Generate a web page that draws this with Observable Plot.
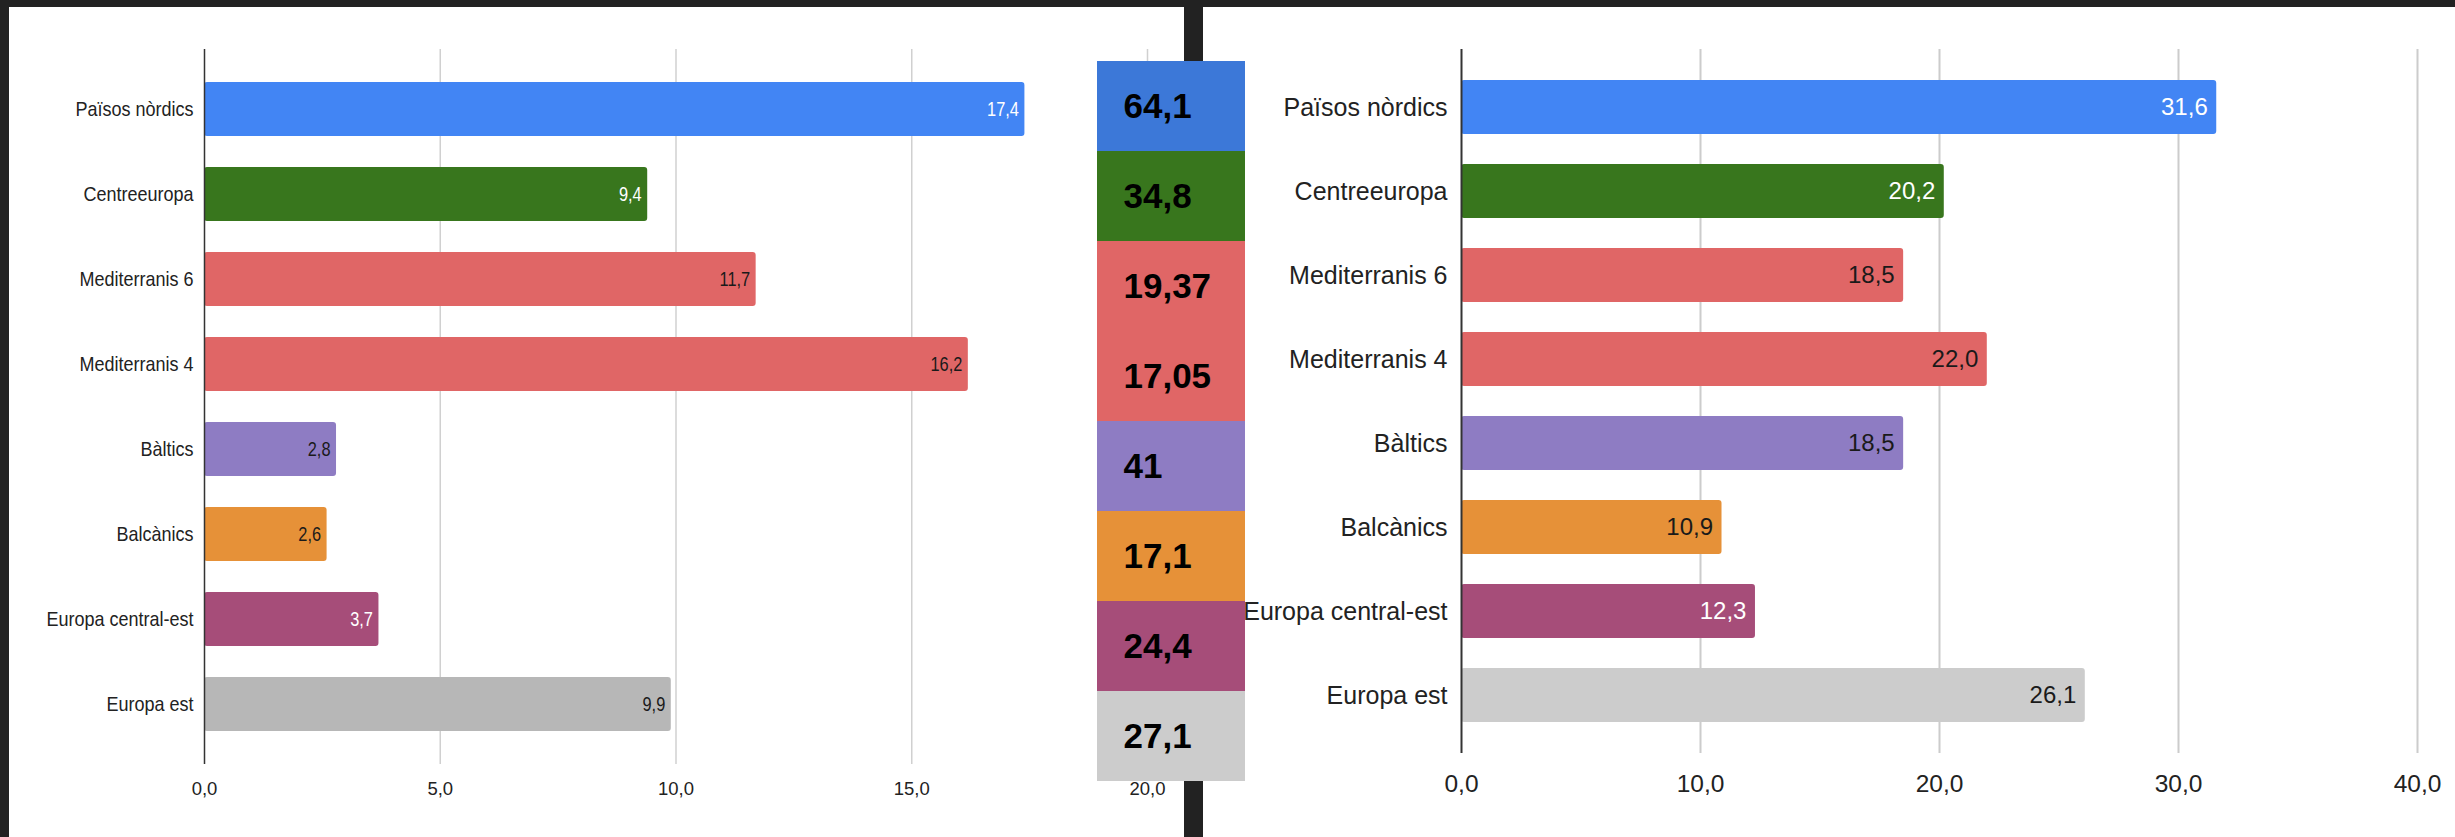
<!DOCTYPE html>
<html>
<head>
<meta charset="utf-8">
<script src="https://cdn.jsdelivr.net/npm/d3@7"></script>
<script src="https://cdn.jsdelivr.net/npm/@observablehq/plot@0.6"></script>
<style>
  html, body { margin: 0; padding: 0; }
  body { background: #222222; width: 2455px; height: 837px; position: relative; overflow: hidden; }
  .panel { position: absolute; background: #ffffff; }
  #lp { left: 9px; top: 7px; width: 1175px; height: 830px; }
  #rp { left: 1203px; top: 7px; width: 1252px; height: 830px; }
  #cb { position: absolute; left: 1097px; top: 59px; width: 148px; height: 724px; }
</style>
</head>
<body>
<div id="lp" class="panel"></div>
<div id="rp" class="panel"></div>
<div id="cb"></div>
<script>
// ---- data ----
const categories = ["Països nòrdics", "Centreeuropa", "Mediterranis 6", "Mediterranis 4", "Bàltics", "Balcànics", "Europa central-est", "Europa est"];
const leftValues = [17.4, 9.4, 11.7, 16.2, 2.8, 2.6, 3.7, 9.9];
const rightValues = [31.6, 20.2, 18.5, 22.0, 18.5, 10.9, 12.3, 26.1];
const boxValues = [64.1, 34.8, 19.37, 17.05, 41, 17.1, 24.4, 27.1];
const leftTicks = [0, 5, 10, 15, 20];
const rightTicks = [0, 10, 20, 30, 40];

// ---- styles ----
const leftBarColors = ["#4285f4", "#38761d", "#e06666", "#e06666", "#8e7cc3", "#e69138", "#a64d79", "#b7b7b7"];
const rightBarColors = ["#4285f4", "#38761d", "#e06666", "#e06666", "#8e7cc3", "#e69138", "#a64d79", "#cccccc"];
const boxColors = ["#3c78d8", "#38761d", "#e06666", "#e06666", "#8e7cc3", "#e69138", "#a64d79", "#cccccc"];
const labelColors = ["#ffffff", "#ffffff", "#1a1a1a", "#1a1a1a", "#1a1a1a", "#1a1a1a", "#ffffff", "#1a1a1a"];
const FONT = "'Liberation Sans', Arial, sans-serif";

const rows = categories.map((c, i) => ({cat: c, left: leftValues[i], right: rightValues[i], box: boxValues[i], i}));
const fmt1 = (v) => v.toFixed(1).replace(".", ",");
const fmtBox = (v) => String(v).replace(".", ",");

function condense(svg, selector, s) {
  svg.querySelectorAll(selector).forEach((t) => {
    const tr = t.getAttribute("transform");
    if (tr) t.setAttribute("transform", tr + ` scale(${s},1)`);
    else {
      const x = +t.getAttribute("x") || 0, y = +t.getAttribute("y") || 0;
      t.removeAttribute("x"); t.removeAttribute("y");
      t.setAttribute("transform", `translate(${x},${y}) scale(${s},1)`);
    }
  });
}

// ---- left chart ----
const left = Plot.plot({
  width: 1175, height: 830,
  marginLeft: 195, marginRight: 37, marginTop: 42, marginBottom: 73,
  style: {background: "transparent", fontFamily: FONT},
  x: {domain: [0, 20], axis: null, label: null},
  y: {domain: categories, padding: 0.36, axis: null, label: null},
  color: {type: "identity"},
  marks: [
    Plot.ruleX(leftTicks.slice(1), {stroke: "#d0d0d0", strokeWidth: 1.5}),
    Plot.barX(rows, {y: "cat", x: "left", fill: (d) => leftBarColors[d.i], rx: 3}),
    Plot.ruleX([0], {stroke: "#333333", strokeWidth: 1.5}),
    Plot.text(rows, {y: "cat", x: "left", text: (d) => fmt1(d.left), fill: (d) => labelColors[d.i], textAnchor: "end", dx: -6, fontSize: 20}),
    Plot.axisX(leftTicks, {tickSize: 0, tickPadding: 17, tickFormat: fmt1, fontSize: 18.5, fill: "#222", label: null}),
    Plot.axisY({tickSize: 0, tickPadding: 11, fontSize: 20, fill: "#222", label: null})
  ]
});
condense(left, 'g[aria-label="y-axis tick label"] text', 0.9);
condense(left, 'g[aria-label="text"] text', 0.82);
document.getElementById("lp").appendChild(left);

// ---- right chart ----
const right = Plot.plot({
  width: 1252, height: 830,
  marginLeft: 258, marginRight: 38, marginTop: 42, marginBottom: 84,
  style: {background: "transparent", fontFamily: FONT},
  x: {domain: [0, 40], axis: null, label: null},
  y: {domain: categories, padding: 0.36, axis: null, label: null},
  color: {type: "identity"},
  marks: [
    Plot.ruleX(rightTicks.slice(1), {stroke: "#cccccc", strokeWidth: 2}),
    Plot.barX(rows, {y: "cat", x: "right", fill: (d) => rightBarColors[d.i], rx: 3}),
    Plot.ruleX([0], {stroke: "#333333", strokeWidth: 2}),
    Plot.text(rows, {y: "cat", x: "right", text: (d) => fmt1(d.right), fill: (d) => labelColors[d.i], textAnchor: "end", dx: -9, fontSize: 24}),
    Plot.axisX(rightTicks, {tickSize: 0, tickPadding: 21, tickFormat: fmt1, fontSize: 24.5, fill: "#222", label: null}),
    Plot.axisY({tickSize: 0, tickPadding: 14, fontSize: 25, fill: "#222", label: null})
  ]
});
document.getElementById("rp").appendChild(right);

// ---- centre boxes ----
const center = Plot.plot({
  width: 148, height: 724,
  marginLeft: 0, marginRight: 0, marginTop: 0, marginBottom: 0,
  style: {background: "transparent", fontFamily: FONT},
  x: {domain: [0, 1], axis: null, label: null},
  y: {domain: categories, padding: 0, axis: null, label: null},
  color: {type: "identity"},
  marks: [
    Plot.barX(rows, {y: "cat", x1: 0, x2: 1, fill: (d) => boxColors[d.i], shapeRendering: "crispEdges"}),
    Plot.text(rows, {y: "cat", x: 0, text: (d) => fmtBox(d.box), dx: 26, textAnchor: "start", fontSize: 35, fontWeight: "bold", fill: "#000000"})
  ]
});
document.getElementById("cb").appendChild(center);
</script>
</body>
</html>
